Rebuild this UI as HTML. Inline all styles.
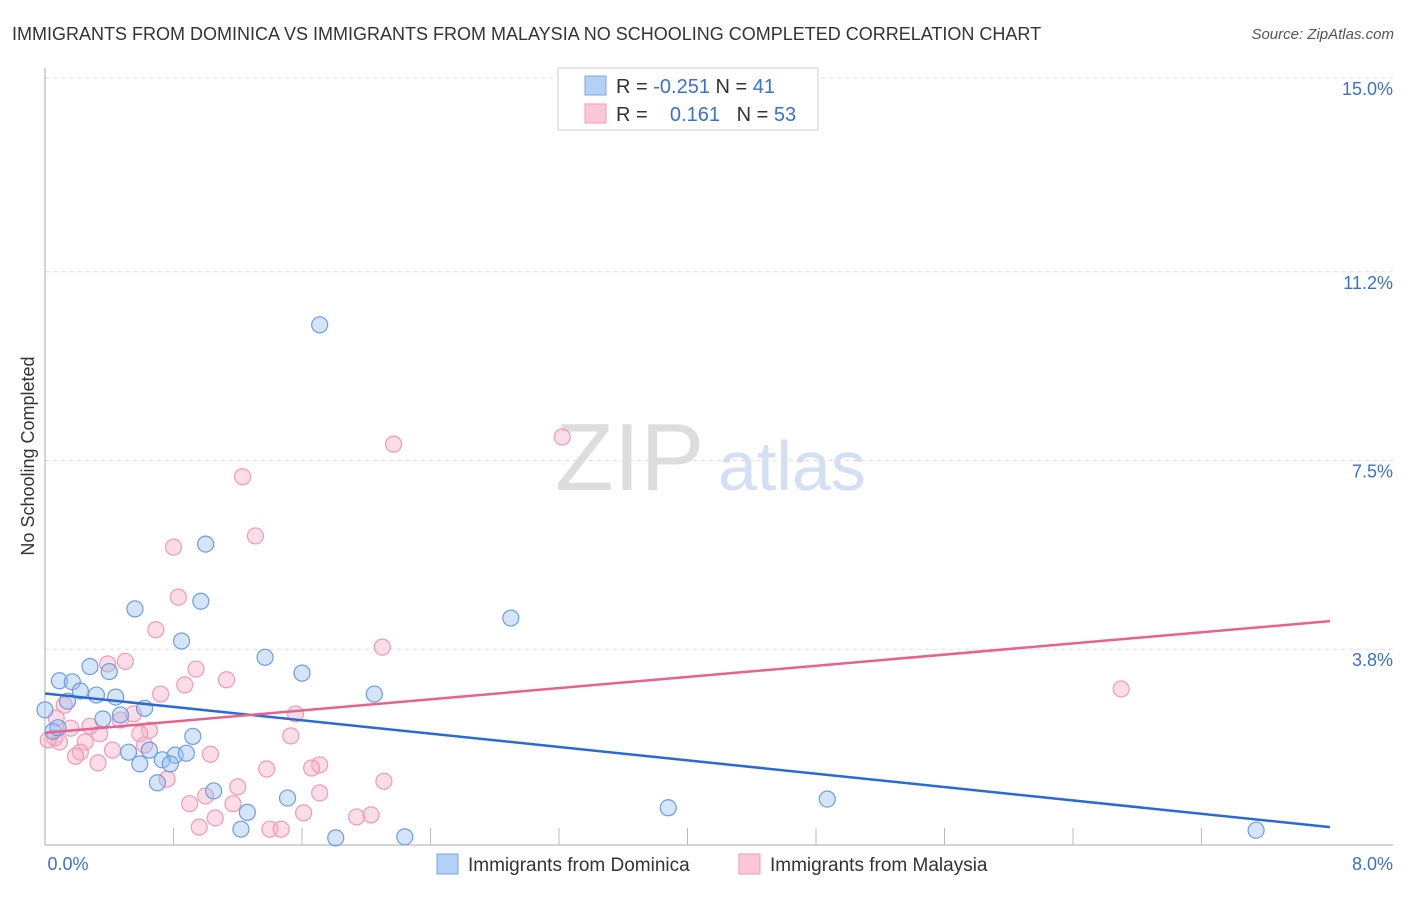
<!DOCTYPE html>
<html><head><meta charset="utf-8"><style>
body{margin:0;background:#fff;font-family:"Liberation Sans",sans-serif;}
svg text{font-family:"Liberation Sans",sans-serif;}
</style></head><body>
<svg id="c" width="1406" height="892">
<text x="12" y="40" font-size="18" fill="#333">IMMIGRANTS FROM DOMINICA VS IMMIGRANTS FROM MALAYSIA NO SCHOOLING COMPLETED CORRELATION CHART</text>
<text x="1394" y="39" font-size="15" fill="#555" font-style="italic" text-anchor="end">Source: ZipAtlas.com</text>
<text transform="translate(34,456) rotate(-90)" font-size="18" fill="#333" text-anchor="middle">No Schooling Completed</text>
<g><text x="555" y="490" font-size="96" fill="#ddd" font-family="Liberation Serif">ZIP</text><text x="718" y="490" font-size="70" fill="#d3e0f3">atlas</text></g>
<g id="grid"></g><g id="pts"></g><g id="lines"></g>
<g>
<rect x="558" y="68" width="260" height="62" fill="#fff" stroke="#ccc"/>
<rect x="585" y="76" width="21" height="19" fill="#b5d0f5" stroke="#7aa6e6"/>
<rect x="585" y="104" width="21" height="19" fill="#fcc8d8" stroke="#f09ab4"/>
<text x="616" y="93" font-size="20" fill="#333">R = <tspan fill="#3a70d0">-0.251</tspan>   N = <tspan fill="#3a70d0"> 41</tspan></text>
<text x="616" y="121" font-size="20" fill="#333" xml:space="preserve">R =    <tspan fill="#3a70d0">0.161</tspan>   N = <tspan fill="#3a70d0">53</tspan></text>
</g>
<g>
<rect x="437" y="854" width="21" height="20" fill="#b5d0f5" stroke="#7aa6e6"/>
<text x="468" y="871" font-size="19" fill="#333">Immigrants from Dominica</text>
<rect x="739" y="854" width="21" height="20" fill="#fcc8d8" stroke="#f09ab4"/>
<text x="770" y="871" font-size="19" fill="#333">Immigrants from Malaysia</text>
</g>
</svg>
<script>
const yTicks=[15.0,11.2,7.5,3.8];
const yTickLabels=["15.0%","11.2%","7.5%","3.8%"];
const xTickLabels=["0.0%","8.0%"];
const dominicaX=[1.71,1.00,0.56,0.97,0.85,1.37,1.60,0.28,0.40,0.09,0.17,0.22,0.32,0.14,0.44,0.62,2.05,2.90,0.47,0.36,0.05,0.0,0.65,0.52,0.81,0.88,0.92,0.73,0.59,0.78,0.70,1.05,1.26,1.22,1.51,1.81,2.24,3.88,4.87,7.54,0.08];
const dominicaY=[10.2,5.9,4.63,4.78,4.0,3.68,3.37,3.5,3.4,3.22,3.2,3.02,2.94,2.82,2.9,2.68,2.96,4.45,2.55,2.47,2.23,2.65,1.86,1.82,1.76,1.80,2.13,1.67,1.59,1.59,1.22,1.06,0.64,0.31,0.92,0.14,0.16,0.73,0.90,0.29,2.3];
const malaysiaX=[2.17,3.22,1.23,1.31,0.80,0.83,0.69,2.10,0.50,0.39,0.94,1.13,0.87,0.72,6.70,0.12,0.07,0.55,1.56,0.47,0.16,0.28,0.65,0.34,1.53,0.59,0.06,0.09,0.02,0.25,0.62,0.42,1.03,0.22,0.19,0.33,1.38,0.76,1.20,1.71,1.66,2.11,1.71,1.00,0.90,1.17,1.06,0.96,1.61,1.94,2.03,1.40,1.47];
const malaysiaY=[7.86,8.0,7.22,6.06,5.84,4.86,4.22,3.88,3.6,3.55,3.45,3.24,3.14,2.96,3.06,2.74,2.49,2.57,2.57,2.45,2.29,2.33,2.25,2.18,2.14,2.18,2.1,2.02,2.06,2.02,1.96,1.86,1.78,1.82,1.74,1.61,1.49,1.29,1.14,1.57,1.51,1.25,1.02,0.96,0.81,0.81,0.53,0.35,0.63,0.55,0.59,0.31,0.31];
const dominicaTrend=[2.97,0.35];
const malaysiaTrend=[2.2,4.39];
const NS="http://www.w3.org/2000/svg";
const X0=45,X1=1330,Y0=845,PPU=51.0;
const sx=v=>X0+(v/8)*(X1-X0);
const sy=v=>Y0-v*PPU;
function mk(tag,attrs,parent){const e=document.createElementNS(NS,tag);for(const k in attrs)e.setAttribute(k,attrs[k]);parent.appendChild(e);return e;}
const grid=document.getElementById('grid');
yTicks.forEach((t,i)=>{
 const l=mk('line',{x1:X0,x2:1393,y1:sy(t)-2,y2:sy(t)-2,stroke:'#ddd','stroke-dasharray':'4,4'},grid);
 
 
 const tx=mk('text',{x:1393,y:sy(t)+15,'font-size':18,fill:'#3a70d0','text-anchor':'end'},grid);
 tx.textContent=yTickLabels[i];
 
 
});
const ax=mk('line',{x1:X0,x2:X0,y1:68,y2:Y0,stroke:'#aaa'},grid);


const bx=mk('line',{x1:X0,x2:1393,y1:Y0,y2:Y0,stroke:'#aaa'},grid);


for(let i=1;i<=9;i++){const t=mk('line',{x1:sx(i*8/10),x2:sx(i*8/10),y1:Y0-17,y2:Y0,stroke:'#bbb'},grid);
 
 }
[[X0+23,xTickLabels[0]],[1393,xTickLabels[1]]].forEach(([x,s])=>{const t=mk('text',{x:x,y:870,'font-size':18,fill:'#3a70d0','text-anchor':x>1000?'end':'middle'},grid);t.textContent=s;
 
 });
const pts=document.getElementById('pts');
malaysiaX.forEach((x,i)=>{const c=mk('circle',{cx:sx(x),cy:sy(malaysiaY[i]),r:8,fill:'rgba(248,170,195,0.4)',stroke:'#f09ab4','stroke-width':1.2},pts);
 
 });
dominicaX.forEach((x,i)=>{const c=mk('circle',{cx:sx(x),cy:sy(dominicaY[i]),r:8,fill:'rgba(150,190,240,0.4)',stroke:'#6d9de0','stroke-width':1.2},pts);
 
 });
const lines=document.getElementById('lines');
const bl=mk('line',{x1:sx(0),y1:sy(dominicaTrend[0]),x2:sx(8),y2:sy(dominicaTrend[1]),stroke:'#2a6ad6','stroke-width':2.5},lines);


const pl=mk('line',{x1:sx(0),y1:sy(malaysiaTrend[0]),x2:sx(8),y2:sy(malaysiaTrend[1]),stroke:'#e8628e','stroke-width':2.5},lines);


</script>
</body></html>
